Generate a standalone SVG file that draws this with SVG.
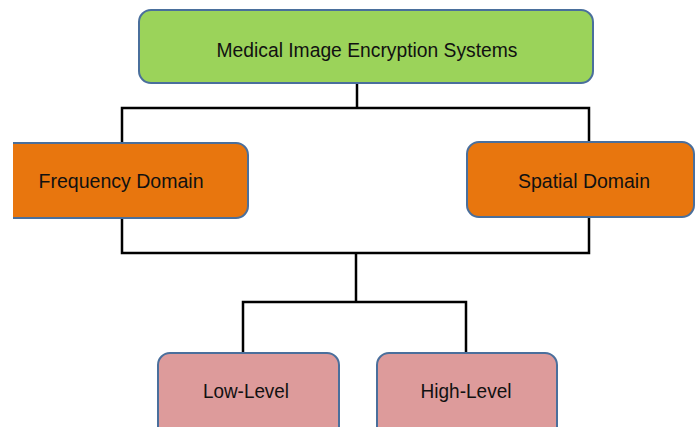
<svg xmlns="http://www.w3.org/2000/svg" width="700" height="427" viewBox="0 0 700 427">
<style>
.box{stroke:#4a6f9c;stroke-width:2}
.g{fill:#9bd35a}
.o{fill:#e8760e}
.p{fill:#dd9b9b}
.t{font-family:"Liberation Sans",Arial,sans-serif;font-size:20.5px;fill:#111;text-anchor:middle}
.c{fill:none;stroke:#000;stroke-width:2.5;stroke-linejoin:miter}
</style>
<rect width="700" height="427" fill="#fff"/>
<g id="connectors">
<polyline class="c" points="357,84 357,108"/>
<polyline class="c" points="122,143 122,108 589,108 589,142"/>
<polyline class="c" points="122,218 122,253 589,253 589,217"/>
<polyline class="c" points="356,253 356,302"/>
<polyline class="c" points="243,353 243,302 466,302 466,353"/>
</g>
<g id="node-root">
<rect class="box g" x="139" y="10" width="454" height="73" rx="12"/>
<text class="t" x="367" y="57" textLength="301" lengthAdjust="spacingAndGlyphs">Medical Image Encryption Systems</text>
</g>
<g id="node-frequency">
<path class="box o" d="M13,143 H236 A12,12 0 0 1 248,155 V206 A12,12 0 0 1 236,218 H13"/>
<text class="t" x="121" y="188" textLength="165" lengthAdjust="spacingAndGlyphs">Frequency Domain</text>
</g>
<g id="node-spatial">
<rect class="box o" x="467" y="142" width="227" height="75" rx="12"/>
<text class="t" x="584" y="188" textLength="132" lengthAdjust="spacingAndGlyphs">Spatial Domain</text>
</g>
<g id="node-low">
<rect class="box p" x="158" y="353" width="181" height="90" rx="12"/>
<text class="t" x="246" y="398" textLength="86" lengthAdjust="spacingAndGlyphs">Low-Level</text>
</g>
<g id="node-high">
<rect class="box p" x="377" y="353" width="180" height="90" rx="12"/>
<text class="t" x="466" y="398" textLength="91" lengthAdjust="spacingAndGlyphs">High-Level</text>
</g>
</svg>
